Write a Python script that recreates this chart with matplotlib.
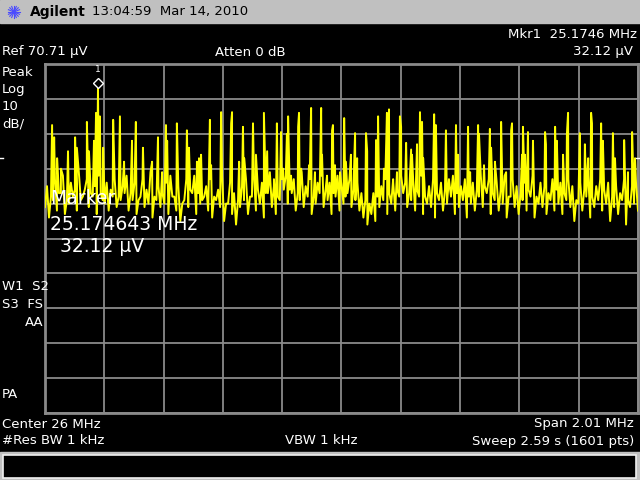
import matplotlib
matplotlib.use("Agg")
import matplotlib.pyplot as plt
from matplotlib.patches import Rectangle
import numpy as np

# instrument settings
center_mhz = 26.0
span_mhz = 2.01
ref_uv = 70.71
db_per_div = 10

# marker 1
mkr_freq_mhz = 25.174643
mkr_level_uv = 32.12

# strong spectral lines: frequency (MHz), level (dB below ref)
peak_freqs = [
    25.019, 25.026, 25.036, 25.049, 25.073, 25.097, 25.103, 25.137, 25.144, 25.161,
    25.168, 25.1746, 25.181, 25.192, 25.226, 25.249, 25.263, 25.290, 25.303, 25.327,
    25.358, 25.378, 25.392, 25.405, 25.409, 25.442, 25.476, 25.483, 25.510, 25.517,
    25.524, 25.554, 25.558, 25.592, 25.626, 25.629, 25.653, 25.666, 25.670, 25.700,
    25.710, 25.737, 25.748, 25.771, 25.781, 25.795, 25.802, 25.815, 25.819, 25.829,
    25.853, 25.856, 25.863, 25.890, 25.897, 25.910, 25.931, 25.934, 25.951, 25.968,
    25.971, 25.978, 25.995, 26.009, 26.015, 26.032, 26.046, 26.053, 26.083, 26.087,
    26.117, 26.124, 26.144, 26.154, 26.161, 26.175, 26.188, 26.198, 26.202, 26.219,
    26.236, 26.239, 26.256, 26.266, 26.273, 26.277, 26.314, 26.320, 26.354, 26.388,
    26.395, 26.429, 26.436, 26.463, 26.466, 26.483, 26.503, 26.507, 26.520, 26.541,
    26.558, 26.575, 26.578, 26.612, 26.615, 26.622, 26.632, 26.649, 26.690, 26.693,
    26.724, 26.730, 26.751, 26.764, 26.768, 26.808, 26.825, 26.836, 26.846, 26.849,
    26.880, 26.886, 26.920, 26.927, 26.958, 26.971, 26.985, 26.995,
]
peak_levels = [
    -17.5, -21, -27, -30, -25, -21, -24, -16.6, -25, -22,
    -14, -6.85, -15, -24, -16, -15, -28, -22, -16.6, -24,
    -28, -21, -31, -17.5, -22, -17, -19, -24, -28, -27,
    -26, -16, -29, -13.8, -17, -13.8, -28, -18, -27, -17,
    -26, -14, -25, -33, -17, -19.5, -30, -20, -15, -32,
    -18, -14, -30, -29, -12.6, -31, -12.6, -26, -32, -19,
    -17.5, -29, -31, -15.5, -28, -26, -19.8, -27, -19.8, -25,
    -21.8, -15, -30, -14, -13, -33, -31, -15, -18, -22.6,
    -24.5, -26, -23, -13.8, -16.6, -27, -14.4, -17.5, -19, -17.5,
    -26, -18, -31, -17.5, -20, -29, -18.6, -24, -28, -16.6,
    -31, -19, -17, -26, -18, -26, -19.5, -22, -19.5, -23,
    -18, -22, -26, -20, -14, -19.8, -23, -27, -14, -17,
    -17, -22, -19.8, -27, -21.8, -31, -19.5, -27,
]

# noise floor, evenly spaced across the span (dB below ref)
floor_db = [
    -41, -44, -39, -42, -37, -43, -40, -38, -42, -39,
    -36, -41, -38, -43, -37, -40, -42, -38, -41, -39,
    -37, -42, -39, -43, -38, -41, -40, -44, -39, -41,
    -40, -43, -38, -42, -45, -39, -41, -37, -43, -40,
    -38, -42, -44, -39, -41, -45, -40, -43, -46, -41,
    -39, -43, -38, -42, -40, -44, -37, -41, -43, -39,
    -36, -40, -37, -42, -39, -41, -38, -43, -40, -37,
    -41, -39, -43, -38, -42, -40, -37, -41, -39, -42,
    -44, -46, -43, -45, -41, -39, -43, -40, -42, -38,
    -37, -41, -39, -42, -38, -43, -40, -41, -44, -39,
    -42, -40, -38, -43, -41, -39, -44, -40, -42, -38,
    -41, -37, -43, -39, -42, -40, -44, -38, -41, -43,
    -39, -42, -38, -44, -40, -41, -43, -39, -42, -40,
    -43, -39, -41, -45, -40, -42, -38, -44, -41, -39,
    -42, -40, -45, -41, -43, -39, -46, -41, -40, -42,
]

# small noise peaks sitting between the floor samples (dB below ref)
minor_db = [
    -35, -38, -33, -37, -32, -39, -34, -36, -31, -38,
    -33, -37, -35, -32, -39, -34, -36, -33, -38, -35,
    -32, -37, -34, -39, -33, -36, -31, -38, -35, -37,
    -34, -32, -38, -35, -40, -33, -36, -32, -37, -39,
    -35, -33, -38, -36, -32, -40, -34, -37, -39, -35,
    -33, -38, -32, -36, -34, -37, -31, -35, -38, -33,
    -32, -36, -33, -37, -31, -35, -33, -38, -34, -32,
    -36, -34, -37, -32, -35, -38, -33, -36, -34, -37,
    -39, -40, -37, -38, -35, -33, -37, -34, -36, -32,
    -34, -37, -33, -36, -32, -38, -35, -33, -37, -34,
    -36, -33, -32, -37, -35, -33, -38, -34, -36, -32,
    -35, -33, -37, -34, -36, -32, -38, -33, -35, -37,
    -34, -36, -32, -38, -34, -35, -37, -33, -36, -34,
    -37, -33, -35, -39, -34, -36, -32, -38, -35, -33,
    -36, -34, -38, -35, -37, -33, -39, -35, -34,
]

start = center_mhz - span_mhz / 2
stop = center_mhz + span_mhz / 2
floor_freqs = np.linspace(start, stop, len(floor_db))
minor_freqs = (floor_freqs[:-1] + floor_freqs[1:]) / 2

# merge floor, noise peaks and lines into one sweep
freqs = np.concatenate([floor_freqs, minor_freqs, peak_freqs])
levels = np.concatenate([floor_db, minor_db, peak_levels])
order = np.argsort(freqs, kind="stable")
freqs, levels = freqs[order], levels[order]

W, H = 640, 480
fig = plt.figure(figsize=(6.4, 4.8), dpi=100, facecolor="black")

def px_rect(x0, y0, x1, y1):
    return [x0 / W, 1 - y1 / H, (x1 - x0) / W, (y1 - y0) / H]

grid_col = "#8a8a8a"
ax = fig.add_axes(px_rect(45, 64, 638, 413), facecolor="black")
ax.plot(freqs, levels, color="#ffff00", linewidth=1.4, zorder=3)
ax.set_xlim(start, stop)
ax.set_ylim(-10 * db_per_div, 0)
ax.set_xticks(np.linspace(start, stop, 11))
ax.set_yticks(np.arange(-100, 1, db_per_div))
ax.grid(True, color=grid_col, linewidth=1.3)
ax.tick_params(length=0, labelbottom=False, labelleft=False)
for s in ax.spines.values():
    s.set_color(grid_col)
    s.set_linewidth(2)

# marker diamond
mkr_db = 20 * np.log10(mkr_level_uv / ref_uv)
ax.plot([mkr_freq_mhz], [mkr_db + 1.5], marker="D", markersize=5, markerfacecolor="black",
        markeredgecolor="white", markeredgewidth=1, zorder=5, clip_on=False)
ax.text(mkr_freq_mhz, mkr_db + 5.3, "1", color="white", fontsize=6.5, ha="center", va="center")

# screen overlay in pixel coordinates
ov = fig.add_axes([0, 0, 1, 1], facecolor="none")
ov.set_xlim(0, W)
ov.set_ylim(H, 0)
ov.axis("off")

ov.add_patch(Rectangle((0, 0), W, 23, color="#c0c0c0"))
ov.add_patch(Rectangle((0, 452), W, 28, color="#c0c0c0"))
ov.add_patch(Rectangle((3, 455), 633, 23, facecolor="black", edgecolor="#f0f0f0", linewidth=1.2))

# small display-line ticks at the screen edges
ov.plot([0, 3], [158, 158], color="white", linewidth=1)
ov.plot([636, 640], [158, 158], color="white", linewidth=1)

# Agilent spark logo
for a in np.linspace(0, np.pi, 8, endpoint=False):
    dx, dy = 6 * np.cos(a), 6 * np.sin(a)
    ov.plot([14 - dx, 14 + dx], [12 - dy, 12 + dy], color="#4a4aff", linewidth=0.8)

fs = 9.5
kw = dict(color="white", fontsize=fs, va="center", family="DejaVu Sans")
ov.text(30, 12, "Agilent", color="black", fontsize=10, fontweight="bold", va="center")
ov.text(92, 12, "13:04:59  Mar 14, 2010", **{**kw, "color": "black"})
ov.text(637, 35, f"Mkr1  {25.1746:.4f} MHz", ha="right", **kw)
ov.text(2, 52, f"Ref {ref_uv:.2f} µV", **kw)
ov.text(215, 52, "Atten 0 dB", **kw)
ov.text(633, 52, f"{mkr_level_uv:.2f} µV", ha="right", **kw)

for i, s in enumerate(["Peak", "Log", f"{db_per_div}", "dB/"]):
    ov.text(2, 72 + 17.3 * i, s, **kw)
ov.text(2, 287, "W1  S2", **kw)
ov.text(2, 304, "S3  FS", **kw)
ov.text(25, 322, "AA", **kw)
ov.text(2, 394, "PA", **kw)

ov.text(2, 424, f"Center {center_mhz:g} MHz", **kw)
ov.text(634, 424, f"Span {span_mhz:.2f} MHz", ha="right", **kw)
ov.text(2, 441, "#Res BW 1 kHz", **kw)
ov.text(285, 441, "VBW 1 kHz", **kw)
ov.text(634, 441, "Sweep 2.59 s (1601 pts)", ha="right", **kw)

big = dict(color="white", fontsize=13.5, va="center")
ov.text(50, 199, "Marker", **big)
ov.text(50, 225, f"{mkr_freq_mhz:.6f} MHz", **big)
ov.text(60, 247, f"{mkr_level_uv:.2f} µV", **big)

fig.savefig("out.png", dpi=100, facecolor="black")
